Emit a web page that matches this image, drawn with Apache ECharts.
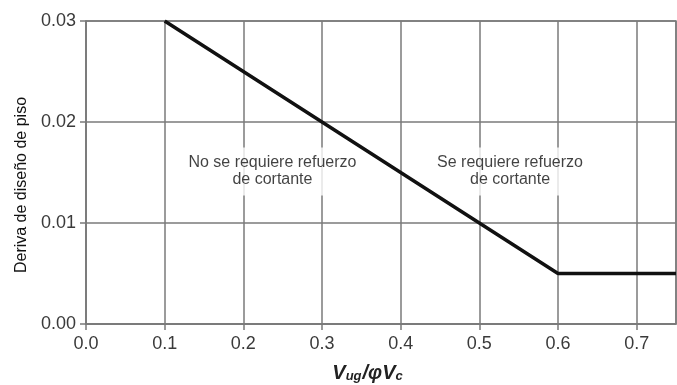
<!DOCTYPE html>
<html>
<head>
<meta charset="utf-8">
<script src="https://cdn.jsdelivr.net/npm/echarts@6/dist/echarts.min.js"></script>
<style>
  html, body { margin: 0; padding: 0; background: #fff; }
  #chart { width: 677px; height: 385px; }
</style>
</head>
<body>
<div id="chart"></div>
<script>
// límite de deriva de diseño (x = Vug/phiVc, y = deriva)
var limitX = [0.1, 0.6, 0.75]
var limitY = [0.03, 0.005, 0.005]

var xTicks = [0, 0.1, 0.2, 0.3, 0.4, 0.5, 0.6, 0.7]
var yTicks = [0, 0.01, 0.02, 0.03]

// textos dentro del gráfico
var noteText = ['No se requiere refuerzo\nde cortante', 'Se requiere refuerzo\nde cortante']
var noteX = [0.237, 0.553]
var noteY = [0.0151, 0.0151]

var gridColor = '#7a7a7a'
var textColor = '#3a3a3a'
var font = '"Liberation Sans", Arial, sans-serif'

var chart = echarts.init(document.getElementById('chart'))

var notes = noteText.map(function (t, i) {
  return {
    value: [noteX[i], noteY[i]],
    label: {
      show: true,
      position: 'inside',
      formatter: t,
      fontFamily: font,
      fontSize: 16,
      lineHeight: 17,
      color: '#111',
      align: 'center',
      backgroundColor: '#fff',
      padding: i === 0 ? [7, 6, 7, 6] : [7, 30, 7, 8]
    }
  }
})

chart.setOption({
  animation: false,
  backgroundColor: '#fff',
  grid: {
    left: 86,
    right: 1,
    top: 21,
    bottom: 61,
    show: true,
    borderColor: gridColor,
    borderWidth: 1.5
  },
  xAxis: {
    type: 'value',
    min: 0,
    max: 0.75,
    interval: 0.1,
    axisLine: { lineStyle: { color: gridColor, width: 1.5 } },
    axisTick: { show: true, length: 6, lineStyle: { color: gridColor, width: 1.5 } },
    splitLine: { show: true, lineStyle: { color: gridColor, width: 1.5 } },
    axisLabel: {
      color: textColor,
      fontFamily: font,
      fontSize: 18,
      margin: 11,
      showMaxLabel: false,
      formatter: function (v) {
        return xTicks.some(function (t) { return Math.abs(t - v) < 1e-9 }) ? v.toFixed(1) : ''
      }
    }
  },
  yAxis: {
    type: 'value',
    min: 0,
    max: 0.03,
    interval: 0.01,
    axisLine: { show: true, lineStyle: { color: gridColor, width: 1.5 } },
    axisTick: { show: true, length: 6, lineStyle: { color: gridColor, width: 1.5 } },
    splitLine: { show: true, lineStyle: { color: gridColor, width: 1.5 } },
    axisLabel: {
      color: textColor,
      fontFamily: font,
      fontSize: 18,
      margin: 10,
      formatter: function (v) {
        return yTicks.some(function (t) { return Math.abs(t - v) < 1e-9 }) ? v.toFixed(2) : ''
      }
    }
  },
  series: [
    {
      type: 'line',
      data: limitX.map(function (x, i) { return [x, limitY[i]] }),
      symbol: 'none',
      lineStyle: { color: '#111', width: 3.5 },
      z: 3
    },
    {
      type: 'scatter',
      data: notes,
      symbolSize: 0,
      silent: true,
      z: 2
    }
  ],
  graphic: [
    {
      type: 'text',
      x: 22,
      y: 185,
      rotation: Math.PI / 2,
      style: {
        text: 'Deriva de diseño de piso',
        fontFamily: font,
        fontSize: 16,
        fill: '#111',
        align: 'center',
        verticalAlign: 'middle'
      }
    },
    {
      type: 'text',
      x: 368,
      y: 372,
      style: {
        text: '{v|V}{s|ug}{v|/φV}{s|c}',
        align: 'center',
        verticalAlign: 'middle',
        rich: {
          v: { fontFamily: font, fontSize: 20, fontWeight: 'bold', fontStyle: 'italic', fill: '#222', lineHeight: 22, verticalAlign: 'bottom' },
          s: { fontFamily: font, fontSize: 13, fontWeight: 'bold', fontStyle: 'italic', fill: '#222', lineHeight: 14, verticalAlign: 'bottom', padding: [0, 1, 0, 0] }
        }
      }
    }
  ]
})
</script>
</body>
</html>
